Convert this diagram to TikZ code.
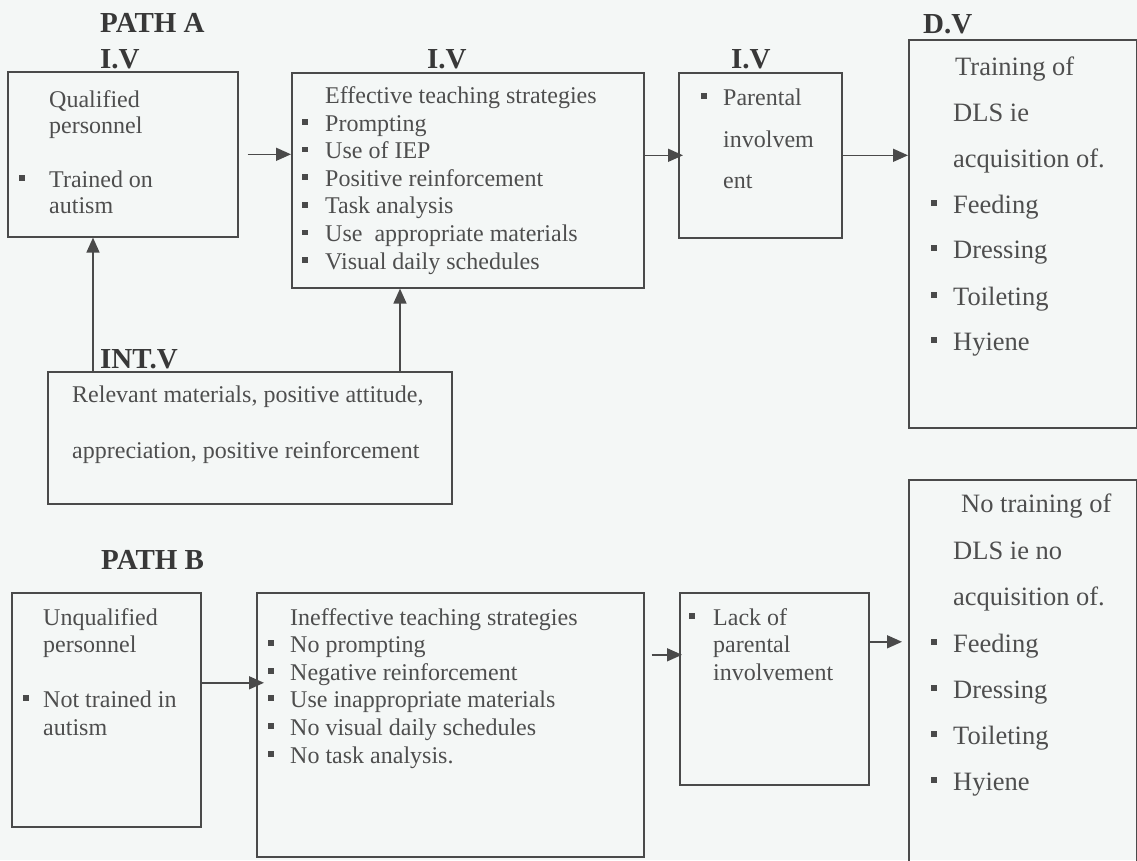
\documentclass[tikz,border=0pt]{standalone}
\usepackage{fontspec}
\setmainfont{Liberation Serif}
\usetikzlibrary{arrows.meta,calc}
\definecolor{bg}{HTML}{F4F7F6}
\definecolor{linec}{HTML}{4A4A4A}
\definecolor{txtc}{HTML}{4E4E4E}
\definecolor{headc}{HTML}{383838}
\begin{document}
\begin{tikzpicture}[x=1pt,y=-1pt,
 box/.style={draw=linec, line width=1.6pt, inner sep=0pt, anchor=north west},
 txt/.style={anchor=base west, inner sep=0pt, text=txtc, font=\fontsize{24}{28}\selectfont},
 big/.style={anchor=base west, inner sep=0pt, text=txtc, font=\fontsize{26.5}{30}\selectfont},
 head/.style={anchor=base west, inner sep=0pt, text=headc, font=\fontsize{29}{32}\selectfont\bfseries},
 bul/.style={fill=linec, minimum size=5.5pt, inner sep=0pt},
 arr/.style={draw=linec, line width=1.6pt, -{Triangle[length=15pt,width=13pt]}},
]
\useasboundingbox (0,0) rectangle (1137,860);
\fill[bg] (0,0) rectangle (1137,860);

% boxes
\node[box, minimum width=230pt, minimum height=165pt] (a1) at (7,71) {};
\node[box, minimum width=352pt, minimum height=215pt] (a2) at (291,72) {};
\node[box, minimum width=163pt, minimum height=165pt] (a3) at (678,72) {};
\node[box, minimum width=228pt, minimum height=388pt] (a4) at (908,39) {};
\node[box, minimum width=404pt, minimum height=132pt] (int) at (47,371) {};
\node[box, minimum width=189pt, minimum height=234pt] (b1) at (11,592) {};
\node[box, minimum width=387pt, minimum height=264pt] (b2) at (256,592) {};
\node[box, minimum width=189pt, minimum height=192pt] (b3) at (679,592) {};
\node[box, minimum width=228pt, minimum height=400pt] (b4) at (908,479) {};

% headings
\node[head] (hpa) at (100,32) {PATH A};
\node[head] (h1) at (100,68) {I.V};
\node[head] (h2) at (427,68) {I.V};
\node[head] (h3) at (731,68) {I.V};
\node[head] (h4) at (923,33) {D.V};
\node[head] (h5) at (100,368) {INT.V};
\node[head] (hpb) at (101,569) {PATH B};

% A1
\node[txt] (a1t1) at (49,107) {Qualified};
\node[txt] (a1t2) at (49,133) {personnel};
\node[bul] (a1b1) at (22,178) {};
\node[txt] (a1t3) at (49,187) {Trained on};
\node[txt] (a1t4) at (49,213) {autism};

% A2
\node[txt] (a2t0) at (325,103) {Effective teaching strategies};
\node[bul] (a2b1) at (305,122) {};
\node[txt] (a2t1) at (325,131) {Prompting};
\node[bul] (a2b2) at (305,149.6) {};
\node[txt] (a2t2) at (325,158.6) {Use of IEP};
\node[bul] (a2b3) at (305,177.2) {};
\node[txt] (a2t3) at (325,186.2) {Positive reinforcement};
\node[bul] (a2b4) at (305,204.8) {};
\node[txt] (a2t4) at (325,213.8) {Task analysis};
\node[bul] (a2b5) at (305,232.4) {};
\node[txt] (a2t5) at (325,241.4) {Use\ \ appropriate materials};
\node[bul] (a2b6) at (305,260) {};
\node[txt] (a2t6) at (325,269) {Visual daily schedules};

% A3
\node[bul] (a3b1) at (704,96) {};
\node[txt] (a3t1) at (723,105) {Parental};
\node[txt] (a3t2) at (723,147) {involvem};
\node[txt] (a3t3) at (723,188) {ent};

% A4
\node[big] (a4t1) at (955,75) {Training of};
\node[big] (a4t2) at (953,121) {DLS ie};
\node[big] (a4t3) at (953,167) {acquisition of.};
\node[bul] (a4b1) at (934,203) {};
\node[big] (a4t4) at (953,213) {Feeding};
\node[bul] (a4b2) at (934,248) {};
\node[big] (a4t5) at (953,258) {Dressing};
\node[bul] (a4b3) at (934,295) {};
\node[big] (a4t6) at (953,305) {Toileting};
\node[bul] (a4b4) at (934,340) {};
\node[big] (a4t7) at (953,350) {Hyiene};

% INT
\node[txt] (it1) at (72,402) {Relevant materials, positive attitude,};
\node[txt] (it2) at (72,458) {appreciation, positive reinforcement};

% B1
\node[txt] (b1t1) at (43,625) {Unqualified};
\node[txt] (b1t2) at (43,652) {personnel};
\node[bul] (b1b1) at (26,698) {};
\node[txt] (b1t3) at (43,707) {Not trained in};
\node[txt] (b1t4) at (43,735) {autism};

% B2
\node[txt] (b2t0) at (290,625) {Ineffective teaching strategies};
\node[bul] (b2b1) at (271,643) {};
\node[txt] (b2t1) at (290,652) {No prompting};
\node[bul] (b2b2) at (271,671) {};
\node[txt] (b2t2) at (290,680) {Negative reinforcement};
\node[bul] (b2b3) at (271,698) {};
\node[txt] (b2t3) at (290,707) {Use inappropriate materials};
\node[bul] (b2b4) at (271,726) {};
\node[txt] (b2t4) at (290,735) {No visual daily schedules};
\node[bul] (b2b5) at (271,754) {};
\node[txt] (b2t5) at (290,763) {No task analysis.};

% B3
\node[bul] (b3b1) at (692,616) {};
\node[txt] (b3t1) at (713,625) {Lack of};
\node[txt] (b3t2) at (713,652) {parental};
\node[txt] (b3t3) at (713,680) {involvement};

% B4
\node[big] (b4t1) at (961,512) {No training of};
\node[big] (b4t2) at (953,559) {DLS ie no};
\node[big] (b4t3) at (953,605) {acquisition of.};
\node[bul] (b4b1) at (934,642) {};
\node[big] (b4t4) at (953,652) {Feeding};
\node[bul] (b4b2) at (934,688) {};
\node[big] (b4t5) at (953,698) {Dressing};
\node[bul] (b4b3) at (934,734) {};
\node[big] (b4t6) at (953,744) {Toileting};
\node[bul] (b4b4) at (934,780) {};
\node[big] (b4t7) at (953,790) {Hyiene};

% connectors
\draw[arr] ([xshift=9pt]a1.east) -- (a1.east -| a2.west);
\draw[arr, shorten >=-5pt] (a2.east |- a3.west) -- (a3.west);
\draw[arr] (a3.east) -- (a3.east -| a4.west);
\coordinate (i1) at ($(int.north west)+(46,0)$);
\coordinate (i2) at ($(int.north west)+(353,0)$);
\draw[arr] (i1) -- (i1 |- a1.south);
\draw[arr] (i2) -- (i2 |- a2.south);
\coordinate (b12) at ([yshift=27pt]b1.east);
\draw[arr, shorten >=-8pt] (b12) -- (b12 -| b2.west);
\coordinate (b23) at ([yshift=34pt]b3.west);
\draw[arr, shorten >=-3pt] ($(b2.east |- b23)+(7,0)$) -- (b23);
\coordinate (b34) at ([yshift=47pt]b3.east);
\draw[arr] (b34) -- ($(b34 -| b4.west)+(-6,0)$);
\end{tikzpicture}
\end{document}
